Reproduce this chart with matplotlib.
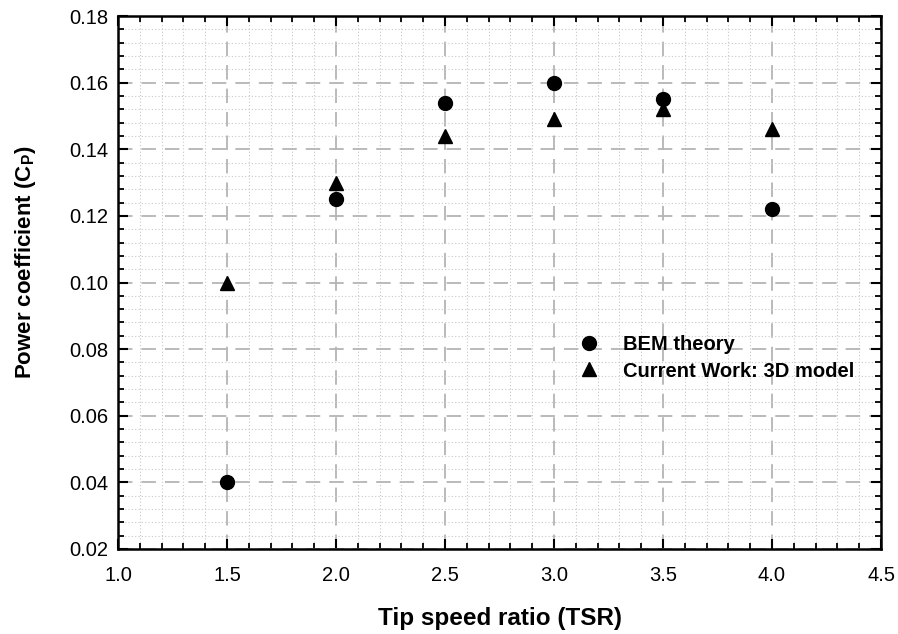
import matplotlib
matplotlib.use("Agg")
import matplotlib.pyplot as plt
from matplotlib.ticker import MultipleLocator, FormatStrFormatter

plt.rcParams['font.family'] = ['Liberation Sans', 'DejaVu Sans']

tsr = [1.5, 2.0, 2.5, 3.0, 3.5, 4.0]
bem_cp = [0.040, 0.125, 0.154, 0.160, 0.155, 0.122]
current_cp = [0.100, 0.130, 0.144, 0.149, 0.152, 0.146]

fig = plt.figure(figsize=(8.98, 6.34), dpi=100)
ax = fig.add_axes([118/898, 1-549/634, (881-118)/898, (549-16)/634])

ax.set_xlim(1.0, 4.5)
ax.set_ylim(0.02, 0.18)
ax.xaxis.set_major_locator(MultipleLocator(0.5))
ax.xaxis.set_minor_locator(MultipleLocator(0.1))
ax.yaxis.set_major_locator(MultipleLocator(0.02))
ax.yaxis.set_minor_locator(MultipleLocator(0.004))
ax.xaxis.set_major_formatter(FormatStrFormatter('%.1f'))
ax.yaxis.set_major_formatter(FormatStrFormatter('%.2f'))

ax.grid(which='minor', color='#c8c8c8', linestyle=(0, (1, 2)), linewidth=0.8)
ax.grid(which='major', color='#b4b4b4', linestyle=(0, (8, 5)), linewidth=1.3)
ax.set_axisbelow(True)

ax.tick_params(which='both', direction='in', top=True, right=True, labelsize=14.5, colors='black')
ax.tick_params(which='major', length=7, width=1.5, pad=7)
ax.tick_params(axis='x', which='major', pad=12)
ax.tick_params(which='minor', length=4, width=1.3)
for s in ax.spines.values():
    s.set_linewidth(1.8)

ax.plot(tsr, bem_cp, 'o', color='black', markersize=10, label='BEM theory', linestyle='none')
ax.plot(tsr, current_cp, '^', color='black', markersize=10, label='Current Work: 3D model', linestyle='none')

ax.set_xlabel('Tip speed ratio (TSR)', fontsize=17.5, fontweight='bold', labelpad=16)
ax.set_ylabel('Power coefficient (C$_\\mathregular{P}$)', fontsize=16, fontweight='bold')
ax.yaxis.set_label_coords(-0.105, 0.537)

ax.legend(loc='upper left', bbox_to_anchor=(0.578, 0.435), frameon=False,
          prop={'weight': 'bold', 'size': 14.5}, handletextpad=1.1, labelspacing=0.36,
          handlelength=1.2)

fig.savefig('out.png', dpi=100)
